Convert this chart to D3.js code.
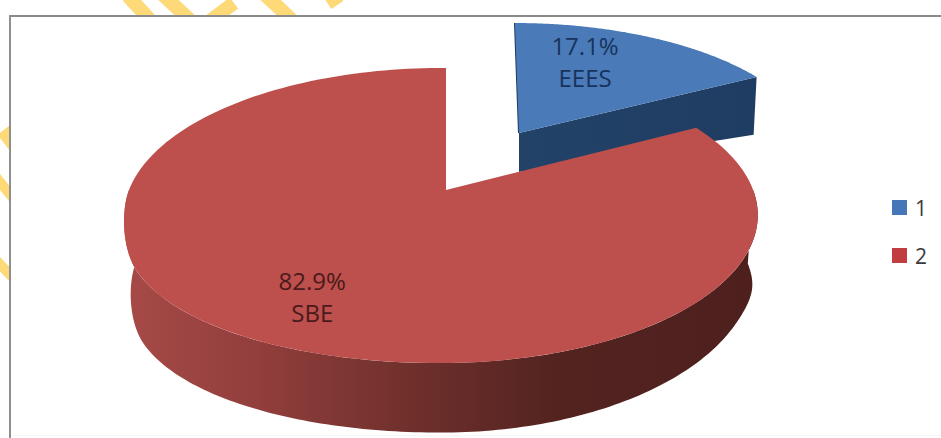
<!DOCTYPE html>
<html>
<head>
<meta charset="utf-8">
<script src="https://cdnjs.cloudflare.com/ajax/libs/d3/7.8.5/d3.min.js"></script>
<style>
  html, body { margin: 0; padding: 0; background: #fff; }
  svg { display: block; }
  text { font-family: "Open Sans", "Noto Sans", sans-serif; }
</style>
</head>
<body>
<div id="chart"></div>
<script>
// Chart values
const seriesKeys = ["1", "2"];
const shares = [17.1, 82.9];
const sliceNames = ["EEES", "SBE"];
const topColors = ["#4a7ab8", "#bd4f4c"];
const legendColors = ["#4577b8", "#c23d42"];
const labelColors = ["#17335c", "#4a1a1c"];

const width = 941, height = 438;

// Perspective settings of each exploded slice: pivot of the slice plus
// projection terms for the top rim and the lower rim of the disc.
// sag bulges the front-left of the disc, lift raises the front-right lower rim.
const sliceViews = [
  { x0: 519, y0: 133, a: 291, b: 125.6, k: 0.142, m: 0, c: -4.6, sag: 0,
    drop: { x: 0, y: 39, sx: 1, sy: 0.664, lift: 0 } },
  { x0: 446, y0: 190, a: 312, b: 143.1, k: 0.173, m: 0.0158, c: 0, sag: 17,
    drop: { x: 0.5, y: 73.5, sx: 0.981, sy: 0.977, lift: 14 } }
];

// Offsets of the slice captions from their anchor on the slice
const labelAnchors = [
  { r: 0.6, dx: -15, lines: [-18, 14] },
  { r: 0.6, dx: -28, lines: [17, 49] }
];

// Yellow band ornaments running behind the frame: x1, y1, x2, y2, stroke width
const bands = [
  [128, -4, 150, 20, 14], [160, -8, 192, 22, 14], [234, 3, 206, 24, 14],
  [262, -8, 292, 20, 14], [340, -4, 328, 4, 12],
  [-8, 172, 16, 202, 10], [-8, 256, 16, 281, 10]
];

const svg = d3.select("#chart").append("svg")
  .attr("width", width).attr("height", height);

svg.append("g").selectAll("line").data(bands).join("line")
  .attr("x1", d => d[0]).attr("y1", d => d[1])
  .attr("x2", d => d[2]).attr("y2", d => d[3])
  .attr("stroke", "#fdd978").attr("stroke-width", d => d[4]);
svg.append("polygon").attr("points", "0,133 0,138 10,151 10,125").attr("fill", "#fdd978");

// Chart frame: grey on the top and left, barely visible along the bottom
svg.append("rect").attr("x", 10).attr("y", 16)
  .attr("width", width).attr("height", height).attr("fill", "#fff");
svg.append("rect").attr("x", 10).attr("y", 435)
  .attr("width", width - 10).attr("height", 1).attr("fill", "#f6f6f6");
svg.append("rect").attr("x", 9).attr("y", 15)
  .attr("width", width).attr("height", 2).attr("fill", "#8a8a8a");
svg.append("rect").attr("x", 9).attr("y", 15)
  .attr("width", 2).attr("height", height).attr("fill", "#8f8f8f");

const defs = svg.append("defs");
const sideGradient = defs.append("linearGradient").attr("id", "redSide")
  .attr("gradientUnits", "userSpaceOnUse")
  .attr("x1", 124).attr("x2", 758).attr("y1", 0).attr("y2", 0);
[[0, "#a64a47"], [0.2, "#933f3d"], [0.45, "#70302c"], [0.68, "#532320"], [1, "#4e201d"]]
  .forEach(([o, c]) => sideGradient.append("stop").attr("offset", o).attr("stop-color", c));

const wallGradient = defs.append("linearGradient").attr("id", "blueWall")
  .attr("gradientUnits", "userSpaceOnUse")
  .attr("x1", 519).attr("x2", 757).attr("y1", 0).attr("y2", 0);
[[0, "#234268"], [1, "#1f3d62"]]
  .forEach(([o, c]) => wallGradient.append("stop").attr("offset", o).attr("stop-color", c));

// Angles come straight from the data; 0 is at the back of the disc, clockwise.
const arcs = d3.pie().sort(null).value(d => d)(shares);

const smooth = t => { const c = Math.max(0, Math.min(1, t)); return c * c * (3 - 2 * c); };

// Maps a disc point (angle, radius) through the slice's perspective view.
function project(view, angle, r, lower) {
  const u = Math.sin(angle) * r, v = Math.cos(angle) * r;
  const w = 1 + view.k * v + view.m * u;
  const d = lower ? view.drop : { x: 0, y: 0, sx: 1, sy: 1, lift: 0 };
  const bulge = u < 0 ? view.sag * u * u * smooth(-v / 0.45) : 0;
  const raise = u > 0 ? d.lift * u * u * smooth(-v / 0.5) : 0;
  return [
    view.x0 + d.x + d.sx * (view.a * u + view.c * v) / w,
    view.y0 + d.y - d.sy * view.b * v / w + bulge - raise
  ];
}

const outline = d3.line();
function rim(view, a0, a1, lower) {
  return d3.range(0, 181).map(i =>
    project(view, a0 + (a1 - a0) * i / 180, 1, lower));
}

const slices = svg.append("g");

arcs.forEach((arc, i) => {
  const view = sliceViews[i];
  const pivot = project(view, 0, 0, false);
  const pivotLow = project(view, 0, 0, true);
  const g = slices.append("g");

  if (i === 0) {
    // The blue slice shows its cut face towards the viewer
    const tip = project(view, arc.endAngle, 1, false);
    const tipLow = project(view, arc.endAngle, 1, true);
    g.append("path")
      .attr("d", outline([pivot, tip, [tipLow[0] - 3, tipLow[1]], pivotLow]) + "Z")
      .attr("fill", "url(#blueWall)");
    g.append("path")
      .attr("d", outline([pivot, project(view, arc.startAngle, 1, false)]))
      .attr("stroke", "#1f3d62").attr("stroke-width", 2).attr("fill", "none");
  } else {
    // The red slice shows the curved outer wall along the front of the disc
    const front = rim(view, Math.PI * 0.5, Math.PI * 1.5, false);
    const back = rim(view, Math.PI * 0.5, Math.PI * 1.5, true).reverse();
    g.append("path").attr("d", outline(front.concat(back)) + "Z")
      .attr("fill", "url(#redSide)");
  }

  g.append("path")
    .attr("d", outline([pivot].concat(rim(view, arc.startAngle, arc.endAngle, false))) + "Z")
    .attr("fill", topColors[i]);
});

// Slice captions
arcs.forEach((arc, i) => {
  const view = sliceViews[i], anchor = labelAnchors[i];
  const mid = (arc.startAngle + arc.endAngle) / 2;
  const [x, y] = project(view, mid, anchor.r, false);
  const caption = [d3.format(".1f")(shares[i]) + "%", sliceNames[i]];
  caption.forEach((t, j) => svg.append("text")
    .attr("x", x + anchor.dx).attr("y", y + anchor.lines[j])
    .attr("text-anchor", "middle").attr("font-size", 24)
    .attr("fill", labelColors[i]).text(t));
});

// Legend
const legendY = d3.scalePoint().domain(seriesKeys).range([207.5, 255.5]);
const legend = svg.append("g").selectAll("g").data(seriesKeys).join("g")
  .attr("transform", d => `translate(892,${legendY(d)})`);
legend.append("rect").attr("x", 0).attr("y", -7.5)
  .attr("width", 15).attr("height", 15)
  .attr("fill", (d, i) => legendColors[i]);
legend.append("text").attr("x", 23).attr("y", 8)
  .attr("font-size", 21).attr("fill", "#3a3a3a").text(d => d);
</script>
</body>
</html>
